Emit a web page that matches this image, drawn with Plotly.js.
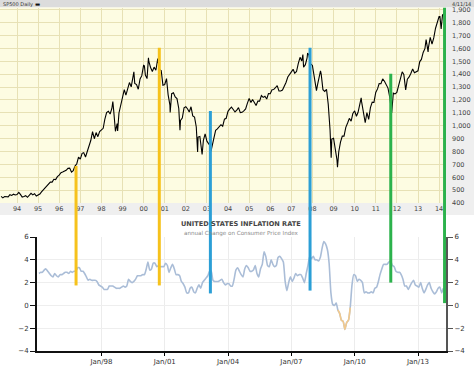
<!DOCTYPE html>
<html><head><meta charset="utf-8">
<script src="https://cdn.plot.ly/plotly-3.0.1.min.js"></script>
<style>html,body{margin:0;padding:0;background:#fff}#c{width:474px;height:366px}</style>
</head><body><div id="c"></div>
<script>
// S&P 500 monthly closes, starting March 1993
const spStart = [1993, 3];
const spMonthly = [
451,440,450,451,448,464,459,468,462,466,
482,467,446,451,457,444,458,475,463,472,454,459,
470,487,501,515,533,545,562,562,584,582,605,616,
636,640,646,654,669,671,640,652,687,705,757,741,
786,791,757,801,848,885,954,899,947,915,955,970,
980,1049,1102,1112,1091,1134,1121,957,1017,1099,1164,1229,
1280,1238,1286,1335,1302,1373,1329,1320,1283,1363,1389,1469,
1394,1366,1499,1452,1421,1455,1431,1518,1437,1429,1315,1320,
1366,1240,1160,1249,1256,1224,1211,1134,1041,1060,1139,1148,
1130,1107,1147,1076,1067,990,912,916,815,886,936,880,
856,841,848,917,964,975,990,1008,996,1051,1058,1112,
1131,1145,1126,1107,1121,1141,1102,1104,1115,1130,1174,1212,
1181,1204,1181,1157,1192,1191,1234,1220,1229,1207,1249,1248,
1280,1281,1295,1311,1270,1270,1277,1304,1336,1378,1401,1418,
1438,1407,1421,1482,1531,1503,1455,1474,1527,1549,1481,1468,
1379,1331,1323,1386,1400,1280,1267,1283,1166,969,896,903,
826,735,798,873,919,919,987,1021,1057,1036,1096,1115,
1074,1104,1169,1187,1089,1031,1102,1049,1141,1183,1181,1258,
1286,1327,1326,1364,1345,1321,1292,1219,1131,1253,1247,1258,
1312,1366,1408,1398,1310,1362,1379,1407,1441,1412,1416,1426,
1498,1515,1569,1598,1631,1606,1686,1633,1682,1757,1806,1848,
1783,1859,1872];
// intra-month highs / lows
const spExtraDates = ['1998-07-17','1998-10-08','1999-07-16','2000-01-14','2000-03-24','2000-09-01','2001-04-04','2001-09-21','2002-07-23','2002-10-09','2003-03-11','2007-07-19','2007-10-09','2008-03-10','2008-05-19','2008-11-20','2009-03-09','2010-04-23','2010-07-02','2011-10-03','2012-04-02','2012-06-01','2013-05-21','2013-06-24','2014-01-15','2014-02-05','2014-04-02','2014-04-11'];
const spExtraVals  = [1187,959,1418,1465,1527,1521,1103,966,797,777,800,1553,1565,1273,1426,752,677,1217,1023,1099,1419,1278,1669,1573,1848,1751,1891,1816];

// US CPI, annual change (%), monthly from January 1995
const cpiStart = [1995, 1];
const cpi = [
2.8,2.9,2.9,3.1,3.2,3.0,2.8,2.6,2.5,2.8,2.6,2.5,
2.7,2.7,2.8,2.9,2.9,2.8,3.0,2.9,3.0,3.0,3.3,3.3,
3.0,3.0,2.8,2.5,2.2,2.3,2.2,2.2,2.2,2.1,1.8,1.7,
1.6,1.4,1.4,1.4,1.7,1.7,1.7,1.6,1.5,1.5,1.5,1.6,
1.7,1.6,1.7,2.3,2.1,2.0,2.1,2.3,2.6,2.6,2.6,2.7,
2.7,3.2,3.8,3.1,3.2,3.7,3.7,3.4,3.5,3.4,3.4,3.4,
3.7,3.5,2.9,3.3,3.6,3.2,2.7,2.7,2.6,2.1,1.9,1.6,
1.1,1.1,1.5,1.6,1.2,1.1,1.5,1.8,1.5,2.0,2.2,2.4,
2.6,3.0,3.0,2.2,2.1,2.1,2.1,2.2,2.3,2.0,1.8,1.9,
1.9,1.7,1.7,2.3,3.1,3.3,3.0,2.7,2.5,3.2,3.5,3.3,
3.0,3.0,3.1,3.5,2.8,2.5,3.2,3.6,4.7,4.3,3.5,3.4,
4.0,3.6,3.4,3.5,4.2,4.3,4.1,3.8,2.1,1.3,2.0,2.5,
2.1,2.4,2.8,2.6,2.7,2.7,2.4,2.0,2.8,3.5,4.3,4.1,
4.3,4.0,4.0,3.9,4.2,5.0,5.6,5.4,4.9,3.7,1.1,0.1,
0.0,0.2,-0.4,-0.7,-1.3,-1.4,-2.1,-1.5,-1.3,-0.2,1.8,2.7,
2.6,2.1,2.3,2.2,2.0,1.1,1.2,1.1,1.1,1.2,1.1,1.5,
1.6,2.1,2.7,3.2,3.6,3.6,3.6,3.8,3.9,3.5,3.4,3.0,
2.9,2.9,2.7,2.3,1.7,1.7,1.4,1.7,2.0,2.2,1.8,1.7,
1.6,2.0,1.5,1.1,1.4,1.8,2.0,1.5,1.2,1.0,1.2,1.5,
1.6,1.1,1.5];
const cpiTickVals = ['1998-01-01','2001-01-01','2004-01-01','2007-01-01','2010-01-01','2013-01-01'];

// hand-drawn marker lines
const markDates   = ['1996-10-18','2000-09-28','2003-03-01','2007-11-20','2011-09-17','2014-04-05'];
const markTopSP   = [688,1605,1115,1605,1403,1918];
const markBotCPI  = [1.75,1.75,1.05,1.3,2.0,0.2];
const markColors  = ['#f6c21c','#f6c21c','#2b9fd6','#2b9fd6','#2cb24c','#2cb24c'];

const headerLeft = 'SP500 Daily';
const headerRight = '4/11/14';
const infTitle = 'UNITED STATES INFLATION RATE';
const infSub = 'annual Change on Consumer Price Index';

function pad(n){return (n<10?'0':'')+n;}
function monthEnd(y,m){const d=new Date(Date.UTC(y,m,0));return d.getUTCFullYear()+'-'+pad(d.getUTCMonth()+1)+'-'+pad(d.getUTCDate());}
let sp=[];
spMonthly.forEach((v,i)=>{const t=spStart[1]-1+i;const y=spStart[0]+Math.floor(t/12);const m=t%12+1;sp.push([monthEnd(y,m),v]);});
spExtraDates.forEach((d,i)=>sp.push([d,spExtraVals[i]]));
sp.sort((a,b)=>a[0]<b[0]?-1:a[0]>b[0]?1:0);
const spX=sp.map(p=>p[0]), spY=sp.map(p=>p[1]);

const cpiX=cpi.map((v,i)=>{const t=cpiStart[1]-1+i;const y=cpiStart[0]+Math.floor(t/12);const m=t%12+1;return y+'-'+pad(m)+'-15';});
const cpiNeg=cpi.map(v=>v<0?v:null);

const H=366,W=474;
const topDom=[1-203/H,1-7.5/H], botDom=[1-351/H,1-237/H];
const xTopDom=[0,446/W], xBotDom=[37/W,446/W];
const font='DejaVu Sans, Verdana, sans-serif';

const traces=[
 {x:spX,y:spY,xaxis:'x',yaxis:'y',mode:'lines',line:{color:'#000',width:1.1},hoverinfo:'skip'},
 {x:cpiX,y:cpi,xaxis:'x2',yaxis:'y2',mode:'lines',line:{color:'#aabdd7',width:1.6,shape:'spline',smoothing:0.5},hoverinfo:'skip'},
 {x:cpiX,y:cpiNeg,xaxis:'x2',yaxis:'y2',mode:'lines',connectgaps:false,line:{color:'#f2c98c',width:1.6,shape:'spline',smoothing:0.5},hoverinfo:'skip'},
 {x:cpiX,y:cpi,xaxis:'x2',yaxis:'y3',mode:'lines',line:{width:0,color:'rgba(0,0,0,0)'},hoverinfo:'skip',showlegend:false}
];

const shapes=[
 {type:'rect',xref:'paper',yref:'paper',x0:0,x1:1,y0:1-7.5/H,y1:1,fillcolor:'#dcdcdc',line:{width:0},layer:'below'},
 {type:'rect',xref:'paper',yref:'paper',x0:446/W,x1:1,y0:1-215/H,y1:1-7.5/H,fillcolor:'#efefef',line:{width:0},layer:'below'},
 {type:'rect',xref:'paper',yref:'paper',x0:0,x1:446/W,y0:1-215/H,y1:topDom[0],fillcolor:'#efefef',line:{width:0},layer:'below'},
 {type:'rect',xref:'x domain',yref:'y domain',x0:0,x1:1,y0:0,y1:1,fillcolor:'#fdfce2',line:{width:0},layer:'below'}
];
markDates.forEach((d,i)=>{
 const ln={color:markColors[i],width:3};
 shapes.push({type:'line',xref:'x',yref:'y',x0:d,x1:d,y0:400,y1:markTopSP[i],line:ln,layer:'above'});
 shapes.push({type:'line',xref:'x',yref:'paper',x0:d,x1:d,y0:botDom[1],y1:topDom[0],line:ln,layer:'above'});
 shapes.push({type:'line',xref:'x2',yref:'y2',x0:d,x1:d,y0:markBotCPI[i],y1:6,line:ln,layer:'above'});
});

const layout={
 width:W,height:H,margin:{l:0,r:0,t:0,b:0},showlegend:false,
 paper_bgcolor:'#fff',plot_bgcolor:'rgba(0,0,0,0)',
 font:{family:font,size:7,color:'#333'},
 xaxis:{domain:xTopDom,anchor:'y',type:'date',range:['1993-03-12','2014-04-30'],dtick:'M12',tick0:'1994-01-01',tickformat:'%y',
   showgrid:true,gridcolor:'#e7e1b5',gridwidth:1,ticks:'',tickfont:{size:6.5,color:'#444'},showline:false,zeroline:false,fixedrange:true},
 yaxis:{domain:topDom,anchor:'x',side:'right',range:[400,1918],dtick:100,tickformat:',d',
   showgrid:true,gridcolor:'#e7e1b5',gridwidth:1,ticks:'',ticklabelstandoff:5,tickfont:{size:6.5,color:'#444'},showline:false,zeroline:false,fixedrange:true},
 xaxis2:{domain:xBotDom,anchor:'y2',type:'date',range:['1994-12-12','2014-04-30'],tickmode:'array',tickvals:cpiTickVals,tickformat:'%b/%y',
   showgrid:true,gridcolor:'#ececec',ticks:'outside',ticklen:3,tickcolor:'#000',showline:true,linecolor:'#111',linewidth:2,
   tickfont:{size:7,color:'#333'},zeroline:false,fixedrange:true},
 yaxis2:{domain:botDom,anchor:'x2',range:[-4,6],dtick:2,showgrid:true,gridcolor:'#eeeeee',zeroline:false,
   showline:true,linecolor:'#111',linewidth:2,ticks:'outside',ticklen:5,tickcolor:'#111',tickfont:{size:7,color:'#333'},fixedrange:true},
 yaxis3:{overlaying:'y2',anchor:'x2',side:'right',range:[-4,6],dtick:2,showgrid:false,zeroline:false,
   showline:true,linecolor:'#555',linewidth:2,ticks:'outside',ticklen:5,tickcolor:'#555',tickfont:{size:7,color:'#333'},fixedrange:true},
 shapes:shapes,
 annotations:[
  {text:headerLeft,xref:'paper',yref:'paper',x:2/W,y:1,xanchor:'left',yanchor:'top',borderpad:0,showarrow:false,font:{size:5,color:'#333'}},
  {text:'\u25AC',xref:'paper',yref:'paper',x:34/W,y:1,xanchor:'left',yanchor:'top',borderpad:0,showarrow:false,font:{size:5.5,color:'#111'}},
  {text:headerRight,xref:'paper',yref:'paper',x:472/W,y:1,xanchor:'right',yanchor:'top',borderpad:0,showarrow:false,font:{size:5,color:'#333'}},
  {text:'<b>'+infTitle+'</b>',xref:'paper',yref:'paper',x:241/W,y:1-224/H,xanchor:'center',yanchor:'middle',showarrow:false,font:{size:6.6,color:'#444'}},
  {text:infSub,xref:'paper',yref:'paper',x:241/W,y:1-233.5/H,xanchor:'center',yanchor:'middle',showarrow:false,font:{size:5.6,color:'#888'}}
 ]
};
Plotly.newPlot('c',traces,layout,{staticPlot:true,displayModeBar:false});
</script></body></html>
